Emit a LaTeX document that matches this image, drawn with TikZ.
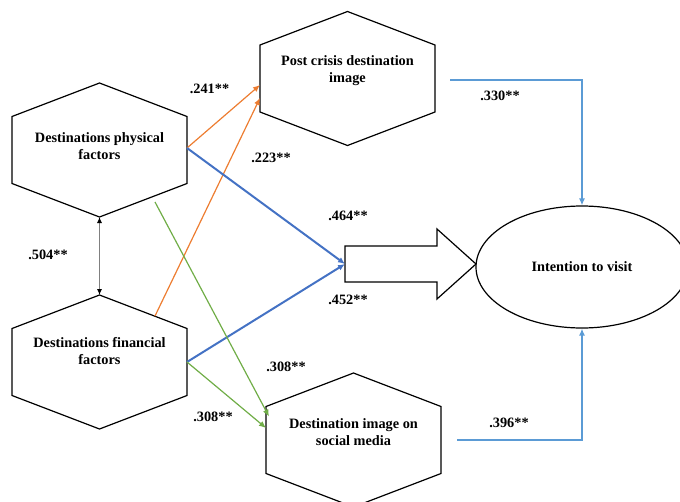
\documentclass[tikz,border=0pt]{standalone}
\usepackage{fontspec}
\setmainfont{Liberation Serif}
\usetikzlibrary{arrows.meta, shapes.geometric}
\definecolor{orangeline}{RGB}{237,125,49}
\definecolor{blueline}{RGB}{68,114,196}
\definecolor{greenline}{RGB}{112,173,71}
\definecolor{skyline}{RGB}{91,155,213}
\definecolor{tieline}{RGB}{128,128,128}

\begin{document}
\begin{tikzpicture}[x=1pt, y=-1pt,
  hexbox/.style={rectangle, minimum width=175pt, minimum height=67pt, inner sep=0pt, outer sep=0pt,
    font=\fontsize{14.3}{17}\selectfont\bfseries, align=center, text depth=#1},
  ovalbox/.style={ellipse, draw, line width=1.2pt, minimum width=212pt, minimum height=122pt,
    inner sep=0pt, font=\fontsize{14.3}{17}\selectfont\bfseries},
  hexline/.style={line width=1.2pt},
  coef/.style={font=\fontsize{14.3}{17}\selectfont\bfseries, inner sep=0pt},
  arrow/.style={-{Latex[length=7pt, width=6pt]}, line width=#1},
  arrow/.default=1.2pt
]
\useasboundingbox (0,0) rectangle (680,501);

\node[hexbox=8pt] (physical) at (99.5,150) {Destinations physical\\factors};
\node[hexbox=23pt] (financial) at (99.5,362) {Destinations financial\\factors};
\node[hexbox=19pt] (postcrisis) at (347.5,78.5) {Post crisis destination\\image};
\node[hexbox=15pt] (socialmedia) at (353.5,440) {Destination image on\\social media};
\node[ovalbox] (intention) at (582,267) {Intention to visit};

% hexagon outlines round the four constructs
\foreach \hex in {physical, financial, postcrisis, socialmedia}
  \draw[hexline] (\hex.north west) -- ([yshift=33.5pt]\hex.north) -- (\hex.north east)
    -- (\hex.south east) -- ([yshift=-33.5pt]\hex.south) -- (\hex.south west) -- cycle;

% block arrow into the intention
\draw[hexline] (345,246) -- (437,246) -- (437,229) -- (476,264) -- (437,299) -- (437,282) -- (345,282) -- cycle;
\coordinate (arrowtail) at (345,264);

\draw[arrow, orangeline] ([yshift=2pt]physical.east) -- ([yshift=-6.5pt]postcrisis.west);
\draw[arrow, orangeline] ([xshift=-32pt, yshift=12.5pt]financial.north east) -- ([yshift=-19.5pt]postcrisis.west);
\draw[arrow=2pt, blueline] ([yshift=2pt]physical.east) -- (arrowtail);
\draw[arrow=2pt, blueline] (financial.east) -- (arrowtail);
\draw[arrow, greenline] ([xshift=-32pt, yshift=-18.5pt]physical.south east) -- ([xshift=3pt, yshift=-10pt]socialmedia.north west);
\draw[arrow, greenline] (financial.east) -- ([yshift=12pt]socialmedia.west);
\draw[{Latex[length=6pt, width=5pt, color=black]}-{Latex[length=6pt, width=5pt, color=black]}, tieline, line width=1pt]
  ([yshift=-33.5pt]physical.south) -- ([yshift=33.5pt]financial.north);
\draw[arrow=1.3pt, skyline] ([xshift=15pt, yshift=-1.5pt]postcrisis.east) -| (intention.north);
\draw[arrow=1.3pt, skyline] ([xshift=16pt]socialmedia.east) -| (intention.south);

% path coefficients
\node[coef] (c241) at (209.5,89) {.241**};
\node[coef] (c223) at (271,158) {.223**};
\node[coef] (c504) at (48,255) {.504**};
\node[coef] (c308a) at (286,367) {.308**};
\node[coef] (c308b) at (213,417) {.308**};
\node[coef] (c464) at (348,216) {.464**};
\node[coef] (c452) at (348,300) {.452**};
\node[coef] (c330) at (500,96) {.330**};
\node[coef] (c396) at (509,423) {.396**};
\end{tikzpicture}
\end{document}
